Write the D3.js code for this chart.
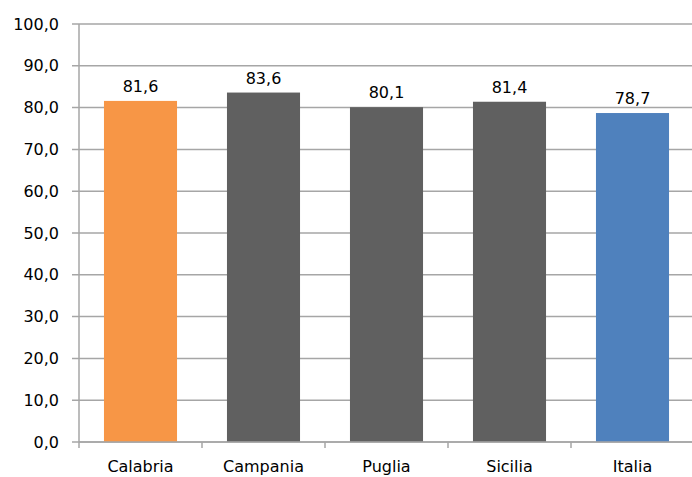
<!DOCTYPE html>
<html>
<head>
<meta charset="utf-8">
<script src="https://cdn.jsdelivr.net/npm/d3@7"></script>
<style>
  html, body { margin: 0; padding: 0; background: #fff; }
  svg { display: block; font-family: "DejaVu Sans", sans-serif; }
</style>
</head>
<body>
<svg id="chart" width="692" height="477"></svg>
<script>
// Regions and their values
const categories = ["Calabria", "Campania", "Puglia", "Sicilia", "Italia"];
const values = [81.6, 83.6, 80.1, 81.4, 78.7];
const barColors = ["#F79646", "#606060", "#606060", "#606060", "#4F81BD"];
const yTicks = [0, 10, 20, 30, 40, 50, 60, 70, 80, 90, 100];

const fmt = v => v.toFixed(1).replace(".", ",");

const svg = d3.select("#chart");
const margin = { left: 79, right: -2, top: 24, bottom: 35 };
const width = 692 - margin.left - margin.right;
const height = 477 - margin.top - margin.bottom;

const g = svg.append("g").attr("transform", `translate(${margin.left},${margin.top})`);

const x = d3.scaleBand().domain(categories).range([0, width]).paddingInner(0.406).paddingOuter(0.203);
const y = d3.scaleLinear().domain([0, 100]).range([height, 0]);

const gridColor = "#A6A6A6";
const fontSize = 16;

// Horizontal gridlines with short ticks to the left of the axis
g.append("g")
  .selectAll("line")
  .data(yTicks)
  .join("line")
  .attr("x1", -7)
  .attr("x2", width)
  .attr("y1", d => y(d))
  .attr("y2", d => y(d))
  .attr("stroke", gridColor)
  .attr("stroke-width", 1.5);

// Y axis labels
const yAxis = d3.axisLeft(y).tickValues(yTicks).tickFormat(fmt).tickSize(0).tickPadding(20);
const ya = g.append("g").call(yAxis);
ya.select(".domain").remove();
ya.selectAll("text")
  .attr("font-size", fontSize)
  .attr("fill", "#000")
  .attr("font-family", "DejaVu Sans, sans-serif");

// Vertical axis line
g.append("line")
  .attr("x1", 0).attr("x2", 0)
  .attr("y1", 0).attr("y2", height + 6)
  .attr("stroke", gridColor).attr("stroke-width", 1.5);

// Bars
g.append("g")
  .selectAll("rect")
  .data(categories)
  .join("rect")
  .attr("x", d => x(d))
  .attr("width", x.bandwidth())
  .attr("y", (d, i) => y(values[i]))
  .attr("height", (d, i) => height - y(values[i]))
  .attr("fill", (d, i) => barColors[i]);

// X axis with category ticks between bands
const xa = g.append("g").attr("transform", `translate(0,${height})`);
xa.append("line")
  .attr("x1", 0).attr("x2", width)
  .attr("stroke", gridColor).attr("stroke-width", 1.5);
const step = x.step();
xa.selectAll(".sep")
  .data(d3.range(1, categories.length + 1))
  .join("line")
  .attr("class", "sep")
  .attr("x1", i => i * step).attr("x2", i => i * step)
  .attr("y1", 0).attr("y2", 6)
  .attr("stroke", gridColor).attr("stroke-width", 1.5);
xa.selectAll("text")
  .data(categories)
  .join("text")
  .attr("x", d => x(d) + x.bandwidth() / 2)
  .attr("y", 30)
  .attr("text-anchor", "middle")
  .attr("font-size", fontSize)
  .attr("fill", "#000")
  .text(d => d);

// Value labels above bars
g.append("g")
  .selectAll("text")
  .data(categories)
  .join("text")
  .attr("x", d => x(d) + x.bandwidth() / 2)
  .attr("y", (d, i) => y(values[i]) - 9)
  .attr("text-anchor", "middle")
  .attr("font-size", fontSize)
  .attr("fill", "#000")
  .text((d, i) => fmt(values[i]));
</script>
</body>
</html>
